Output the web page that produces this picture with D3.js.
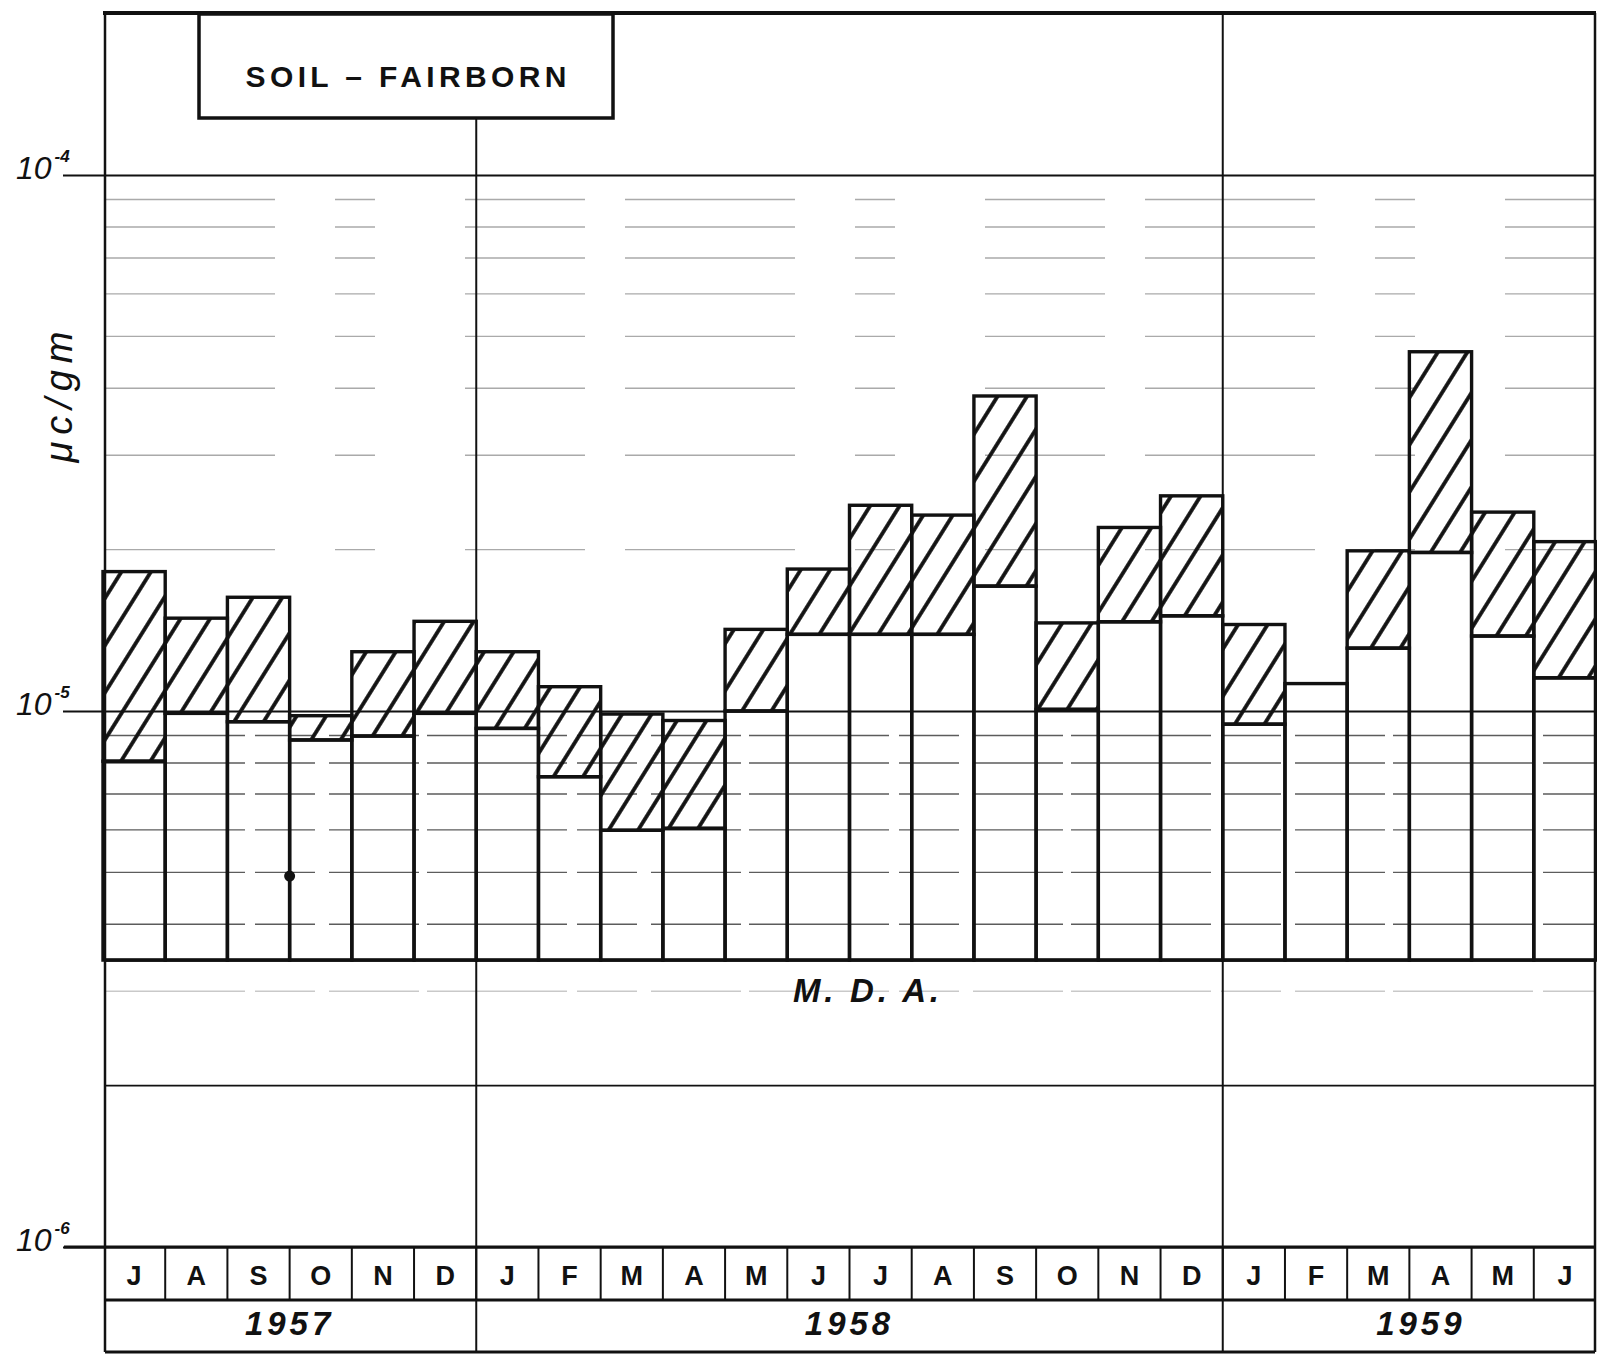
<!DOCTYPE html>
<html>
<head>
<meta charset="utf-8">
<script src="https://cdn.jsdelivr.net/npm/d3@7"></script>
<style>
  html, body { margin: 0; padding: 0; background: #fff; }
  svg { display: block; }
</style>
</head>
<body>
<svg id="chart" width="1597" height="1356"></svg>
<script>
// Monthly soil activity at Fairborn, July 1957 – June 1959 (µc/gm)
const months = ["J","A","S","O","N","D","J","F","M","A","M","J","J","A","S","O","N","D","J","F","M","A","M","J"];
const years = ["1957", "1958", "1959"];
const yearStart = [0, 6, 18];
const yearEnd = [6, 18, 24];

// upper and lower value of each month's range
const highValues = [1.82e-5, 1.49e-5, 1.63e-5, 9.8e-6, 1.29e-5, 1.47e-5,
                    1.29e-5, 1.11e-5, 9.87e-6, 9.6e-6, 1.42e-5, 1.84e-5,
                    2.42e-5, 2.32e-5, 3.87e-5, 1.46e-5, 2.2e-5, 2.52e-5,
                    1.45e-5, 1.125e-5, 1.99e-5, 4.68e-5, 2.35e-5, 2.07e-5];
const lowValues  = [8.06e-6, 9.9e-6, 9.55e-6, 8.83e-6, 8.98e-6, 9.9e-6,
                    9.28e-6, 7.54e-6, 5.99e-6, 6.04e-6, 1.0e-5, 1.39e-5,
                    1.39e-5, 1.39e-5, 1.71e-5, 1.007e-5, 1.467e-5, 1.505e-5,
                    9.45e-6, 1.125e-5, 1.31e-5, 1.976e-5, 1.38e-5, 1.153e-5];

// minimum detectable activity: the floor every bar stands on
const mda = 3.43e-6;

// decade labels on the left
const decadeTicks = [1e-4, 1e-5, 1e-6];
const decadeExponents = ["-4", "-5", "-6"];

// stray pen mark on the S/O boundary
const penMarks = [{ at: 3, value: 4.92e-6 }];

const svg = d3.select("#chart");
const frame = { left: 105, right: 1595, top: 13, bottom: 1352 };
const monthRowBottom = 1300;
const ink = "#111";

const x = d3.scaleBand()
  .domain(d3.range(months.length))
  .range([frame.left - 2, frame.right + 1])
  .paddingInner(0).paddingOuter(0);
const edge = i => (i >= months.length ? frame.right : x(i));

const y = d3.scaleLog().domain([1e-6, 1e-4]).range([1247, 175]);

// diagonal hatching for the range between low and high values
const defs = svg.append("defs");
defs.append("pattern")
  .attr("id", "hatch")
  .attr("patternUnits", "userSpaceOnUse")
  .attr("width", 25).attr("height", 25)
  .attr("patternTransform", "rotate(32)")
  .append("line")
  .attr("x1", 6).attr("y1", -2).attr("x2", 6).attr("y2", 27)
  .attr("stroke", ink).attr("stroke-width", 3.8);

// ---- grid ----
const grid = svg.append("g");
const minor = y.ticks().filter(v => !decadeTicks.some(d => Math.abs(d - v) / d < 1e-6) && v >= 2e-6 && v < 1e-4);
grid.selectAll("line.minor").data(minor).join("line")
  .attr("x1", frame.left).attr("x2", frame.right)
  .attr("y1", d => y(d)).attr("y2", d => y(d))
  .attr("stroke", d => (d < 2.5e-6 ? ink : d < mda ? "#777" : d < 1e-5 ? "#333" : "#555"))
  .attr("stroke-width", d => (d < 2.5e-6 ? 1.8 : 1.4))
  .attr("stroke-opacity", d => (d < 2.5e-6 ? 1 : d < mda ? 0.4 : d < 1e-5 ? 0.8 : 0.5))
  .attr("stroke-dasharray", d => (d < 2.5e-6 ? null : d < 1e-5 ? "140 10 60 14 90 8" : "170 60 40 90 120 40"));

// decade lines via a left axis
const axis = d3.axisLeft(y).tickValues(decadeTicks).tickFormat("")
  .tickSizeInner(-(frame.right - frame.left)).tickSizeOuter(0);
const axisG = svg.append("g").attr("transform", `translate(${frame.left},0)`).call(axis);
axisG.select(".domain").remove();
axisG.selectAll(".tick line").attr("stroke", ink).attr("stroke-width", 2);
// short stubs out to the labels
axisG.selectAll(".tick").append("line")
  .attr("x1", -42).attr("x2", 0).attr("stroke", ink).attr("stroke-width", 2);

// decade labels
const lab = svg.append("g").attr("font-family", "'Liberation Sans', Arial, sans-serif")
  .attr("font-style", "italic").attr("fill", ink);
decadeTicks.forEach((v, i) => {
  const t = lab.append("text").attr("x", 16).attr("y", y(v) + 4).attr("font-size", 32);
  t.append("tspan").text("10");
  t.append("tspan").attr("dx", 3).attr("dy", -17).attr("font-size", 17).attr("font-weight", "bold")
    .text(decadeExponents[i]);
});

// year dividers through the plot
svg.append("line").attr("x1", edge(6)).attr("x2", edge(6))
  .attr("y1", 118).attr("y2", frame.bottom).attr("stroke", ink).attr("stroke-width", 2);
svg.append("line").attr("x1", edge(18)).attr("x2", edge(18))
  .attr("y1", frame.top).attr("y2", frame.bottom).attr("stroke", ink).attr("stroke-width", 2);

// ---- bars ----
const bars = months.map((m, i) => ({ i, hi: highValues[i], lo: lowValues[i] }));
const barG = svg.append("g").attr("stroke", ink).attr("stroke-width", 3.4)
  .attr("stroke-linejoin", "miter");
barG.selectAll("rect.base").data(bars).join("rect")
  .attr("class", "base")
  .attr("x", d => x(d.i)).attr("width", x.bandwidth())
  .attr("y", d => y(d.lo)).attr("height", d => y(mda) - y(d.lo))
  .attr("fill", "none");
barG.selectAll("rect.range").data(bars.filter(d => d.hi > d.lo)).join("rect")
  .attr("class", "range")
  .attr("x", d => x(d.i)).attr("width", x.bandwidth())
  .attr("y", d => y(d.hi)).attr("height", d => y(d.lo) - y(d.hi))
  .attr("fill", "url(#hatch)");

// MDA floor line
svg.append("line").attr("x1", frame.left).attr("x2", frame.right)
  .attr("y1", y(mda)).attr("y2", y(mda)).attr("stroke", ink).attr("stroke-width", 3.4);

svg.selectAll("circle.mark").data(penMarks).join("circle")
  .attr("cx", d => edge(d.at)).attr("cy", d => y(d.value)).attr("r", 5.5).attr("fill", ink);

svg.append("text")
  .attr("x", 866).attr("y", 1002)
  .attr("text-anchor", "middle")
  .attr("font-family", "'Liberation Sans', Arial, sans-serif")
  .attr("font-size", 33).attr("font-weight", "bold").attr("font-style", "italic")
  .attr("textLength", 146).attr("lengthAdjust", "spacing")
  .attr("fill", ink).text("M. D. A.");

// ---- month and year rows ----
const rowG = svg.append("g");
rowG.append("line").attr("x1", 64).attr("x2", frame.right)
  .attr("y1", y(1e-6)).attr("y2", y(1e-6)).attr("stroke", ink).attr("stroke-width", 3);
rowG.append("line").attr("x1", frame.left).attr("x2", frame.right)
  .attr("y1", monthRowBottom).attr("y2", monthRowBottom).attr("stroke", ink).attr("stroke-width", 3);
rowG.selectAll("line.mdiv").data(d3.range(1, months.length)).join("line")
  .attr("x1", d => x(d)).attr("x2", d => x(d))
  .attr("y1", y(1e-6)).attr("y2", monthRowBottom)
  .attr("stroke", ink).attr("stroke-width", 2);
rowG.selectAll("text.month").data(months).join("text")
  .attr("x", (d, i) => x(i) + x.bandwidth() / 2).attr("y", 1285)
  .attr("text-anchor", "middle")
  .attr("font-family", "'Liberation Sans', Arial, sans-serif")
  .attr("font-size", 27).attr("font-weight", "bold").attr("fill", ink)
  .text(d => d);
rowG.selectAll("text.year").data(years).join("text")
  .attr("x", (d, i) => (edge(yearStart[i]) + edge(yearEnd[i])) / 2 + (i === 2 ? 12 : 0)).attr("y", 1335)
  .attr("text-anchor", "middle")
  .attr("font-family", "'Liberation Sans', Arial, sans-serif")
  .attr("font-size", 33).attr("font-weight", "bold").attr("font-style", "italic")
  .attr("letter-spacing", 4).attr("fill", ink)
  .text(d => d);

// ---- frame ----
const fr = svg.append("g").attr("stroke", ink).attr("fill", "none");
fr.append("line").attr("x1", frame.left - 2).attr("x2", frame.right + 1)
  .attr("y1", frame.top).attr("y2", frame.top).attr("stroke-width", 4);
fr.append("line").attr("x1", frame.left).attr("x2", frame.left)
  .attr("y1", frame.top).attr("y2", frame.bottom).attr("stroke-width", 2.5);
fr.append("line").attr("x1", frame.right).attr("x2", frame.right)
  .attr("y1", frame.top).attr("y2", frame.bottom).attr("stroke-width", 2.5);
fr.append("line").attr("x1", frame.left).attr("x2", frame.right)
  .attr("y1", frame.bottom).attr("y2", frame.bottom).attr("stroke-width", 3);

// title box
svg.append("rect").attr("x", 199).attr("y", 14).attr("width", 414).attr("height", 104)
  .attr("fill", "#fff").attr("stroke", ink).attr("stroke-width", 3.5);
svg.append("text").attr("x", 406).attr("y", 87).attr("text-anchor", "middle")
  .attr("font-family", "'Liberation Sans', Arial, sans-serif")
  .attr("font-size", 30).attr("font-weight", "bold").attr("fill", ink)
  .attr("textLength", 321).attr("lengthAdjust", "spacing")
  .text("SOIL – FAIRBORN");

// y-axis title
svg.append("text")
  .attr("transform", "translate(72,397) rotate(-90)")
  .attr("text-anchor", "middle")
  .attr("font-family", "'Liberation Sans', Arial, sans-serif")
  .attr("font-size", 38).attr("font-style", "italic").attr("fill", ink)
  .attr("textLength", 131).attr("lengthAdjust", "spacing")
  .text("μc/gm");
</script>
</body>
</html>
